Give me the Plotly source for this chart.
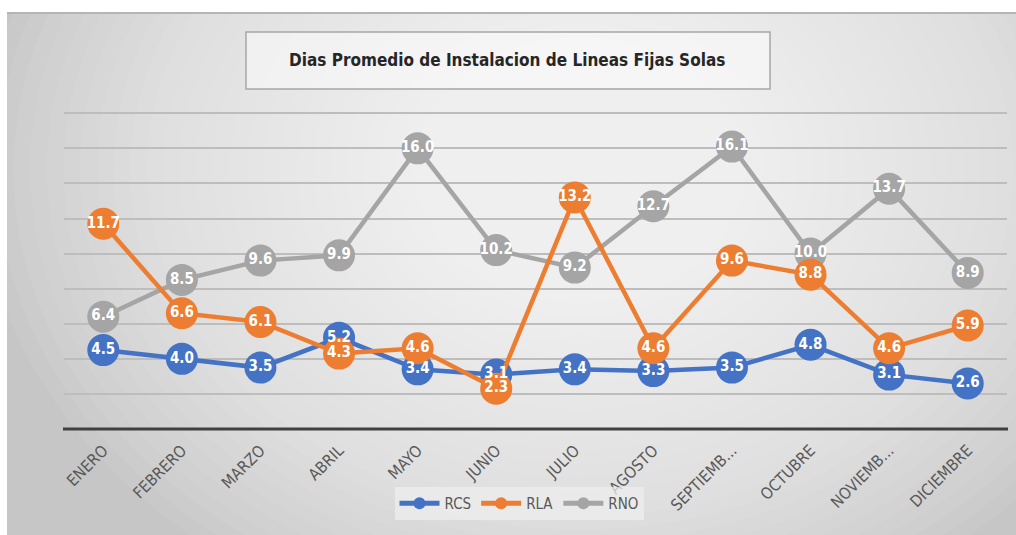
import plotly.graph_objects as go

# данные
meses = ['ENERO', 'FEBRERO', 'MARZO', 'ABRIL', 'MAYO', 'JUNIO', 'JULIO',
         'AGOSTO', 'SEPTIEMB...', 'OCTUBRE', 'NOVIEMB...', 'DICIEMBRE']
rcs = [4.5, 4.0, 3.5, 5.2, 3.4, 3.1, 3.4, 3.3, 3.5, 4.8, 3.1, 2.6]
rla = [11.7, 6.6, 6.1, 4.3, 4.6, 2.3, 13.2, 4.6, 9.6, 8.8, 4.6, 5.9]
rno = [6.4, 8.5, 9.6, 9.9, 16.0, 10.2, 9.2, 12.7, 16.1, 10.0, 13.7, 8.9]
titulo = 'Dias Promedio de Instalacion de Lineas Fijas Solas'

W, H = 1016, 535
L, R, T, B = 64, 1007, 108, 429
FONT = 'DejaVu Sans Condensed, Liberation Sans, sans-serif'


def px(x):
    return (x - L) / (R - L)


def py(y):
    return (B - y) / (B - T)


fig = go.Figure()

# порядок отрисовки: серый снизу, оранжевый сверху
series = [('RNO', rno, '#A5A5A5', 3), ('RCS', rcs, '#4472C4', 1), ('RLA', rla, '#ED7D31', 2)]
for name, vals, color, rank in series:
    fig.add_trace(go.Scatter(
        x=meses, y=vals, name=name, mode='lines+markers',
        line=dict(color=color, width=4.5),
        marker=dict(color=color, size=32),
        legendrank=rank, cliponaxis=False,
    ))

# подписи данных поверх всех маркеров
for name, vals, color, rank in series:
    fig.add_trace(go.Scatter(
        x=meses, y=vals, mode='text', showlegend=False,
        texttemplate='<b>%{y:.1f}</b>', textposition='middle center',
        textfont=dict(color='white', size=15, family=FONT),
        cliponaxis=False, hoverinfo='skip',
    ))

shapes = [
    # рамка диаграммы
    dict(type='rect', xref='paper', yref='paper', layer='below',
         x0=px(7), x1=px(1016), y0=py(536), y1=py(12),
         fillcolor='#c6c6c6', line=dict(width=0)),
]
# радиальный градиент фона
n = 36
for i in range(n):
    k = 1 - i / n
    shapes.append(dict(type='circle', xref='paper', yref='paper', layer='below',
                       x0=px(580 - 600 * k), x1=px(580 + 600 * k),
                       y0=py(170 + 480 * k), y1=py(170 - 480 * k),
                       fillcolor='white', opacity=0.06, line=dict(width=0)))
shapes += [
    dict(type='rect', xref='paper', yref='paper', layer='below',
         x0=px(7), x1=px(1016), y0=py(14), y1=py(12),
         fillcolor='#b5b5b5', line=dict(width=0)),
    # рамка заголовка
    dict(type='rect', xref='paper', yref='paper', layer='below',
         x0=px(246), x1=px(770), y0=py(89), y1=py(32),
         fillcolor='rgba(250,250,250,0.6)', line=dict(color='#a6a6a6', width=1.5)),
    # ось X
    dict(type='line', xref='paper', yref='paper', layer='below',
         x0=px(63), x1=px(1008), y0=0, y1=0,
         line=dict(color='#404040', width=3)),
]

fig.update_layout(
    width=W, height=H,
    margin=dict(l=L, r=W - R, t=T, b=H - B),
    paper_bgcolor='white', plot_bgcolor='rgba(0,0,0,0)',
    font=dict(family=FONT, color='#595959'),
    shapes=shapes,
    annotations=[dict(text='<b>' + titulo + '</b>', xref='paper', yref='paper',
                      x=px(507), y=py(60), xanchor='center', yanchor='middle',
                      showarrow=False,
                      font=dict(size=17, color='#262626', family=FONT))],
    xaxis=dict(range=[-0.5, 11.5], tickangle=-45, showgrid=False, zeroline=False,
               showline=False, tickfont=dict(size=16, color='#595959'),
               ticklabelstandoff=8),
    yaxis=dict(range=[0, 18.3], tickvals=[2, 4, 6, 8, 10, 12, 14, 16, 18],
               showticklabels=False, zeroline=False,
               gridcolor='#bdbdbd', gridwidth=2),
    legend=dict(orientation='h', x=px(519), xanchor='center', y=py(487), yanchor='top',
                bgcolor='rgba(238,238,238,0.75)', font=dict(size=15, color='#595959'),
                itemsizing='constant', itemwidth=40, traceorder='normal'),
    showlegend=True,
)

fig.write_html('out.html', config={'displayModeBar': False},
               post_script="document.body.style.margin='0';")
